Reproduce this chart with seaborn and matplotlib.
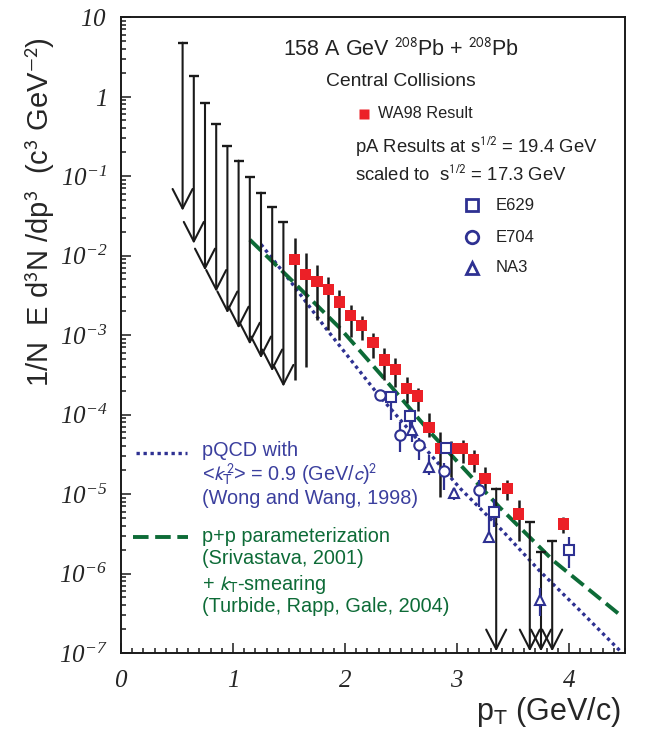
import numpy as np
import matplotlib
matplotlib.use("Agg")
import matplotlib.pyplot as plt
import seaborn as sns

# WA98 result (pT, yield, error bar low / high)
wa98_pt = [1.55, 1.65, 1.75, 1.85, 1.95, 2.05, 2.15, 2.25, 2.35, 2.45, 2.55, 2.65,
           2.75, 2.85, 2.95, 3.05, 3.15, 3.25, 3.45, 3.55, 3.95]
wa98_y = [9.0e-3, 5.8e-3, 4.7e-3, 3.7e-3, 2.6e-3, 1.75e-3, 1.31e-3, 8.1e-4, 4.85e-4, 3.7e-4,
          2.1e-4, 1.71e-4, 6.8e-5, 3.76e-5, 3.7e-5, 3.7e-5, 2.75e-5, 1.58e-5, 1.17e-5, 5.6e-6, 4.2e-6]
wa98_lo = [2.7e-4, 4.0e-4, 1.55e-3, 1.15e-3, 8.7e-4, 9.5e-4, 8.7e-4, 5.1e-4, 2.7e-4, 2.24e-4,
           1.38e-4, 1.1e-4, 5.2e-5, 9.3e-6, 1.66e-5, 2.45e-5, 1.9e-5, 1.12e-5, 8.3e-6, 2.6e-6, 3.2e-6]
wa98_hi = [1.64e-2, 1.07e-2, 7.6e-3, 5.4e-3, 3.7e-3, 2.4e-3, 1.74e-3, 1.07e-3, 6.8e-4, 5.1e-4,
           3.0e-4, 2.14e-4, 1.05e-4, 6.0e-5, 4.6e-5, 4.8e-5, 3.55e-5, 2.2e-5, 1.5e-5, 8.3e-6, 5.1e-6]

# WA98 upper limits (arrow top = limit, arrow tip)
ul_pt = [0.55, 0.65, 0.75, 0.85, 0.95, 1.05, 1.15, 1.25, 1.35, 1.45, 3.35, 3.65, 3.75, 3.85]
ul_top = [4.75, 1.81, 0.82, 0.45, 0.238, 0.156, 0.096, 0.0617, 0.0404, 0.0261,
          1.17e-5, 4.4e-6, 1.86e-6, 2.57e-6]
ul_tip = [3.66e-2, 1.41e-2, 6.5e-3, 3.5e-3, 1.88e-3, 1.21e-3, 7.6e-4, 5.1e-4, 3.5e-4, 2.24e-4,
          1.05e-7, 1.05e-7, 1.05e-7, 1.05e-7]

# pA results scaled to 17.3 GeV
e629_pt = [2.41, 2.58, 2.90, 3.33, 4.00]
e629_y = [1.64e-4, 9.5e-5, 3.83e-5, 5.9e-6, 2.0e-6]
e629_lo = [8.5e-5, 6.3e-5, 3.2e-5, 3.9e-6, 1.16e-6]
e629_hi = [1.95e-4, 1.17e-4, 4.3e-5, 8.7e-6, 2.85e-6]

e704_pt = [2.31, 2.49, 2.66, 2.88, 3.20]
e704_y = [1.76e-4, 5.6e-5, 4.1e-5, 1.96e-5, 1.12e-5]
e704_lo = [1.58e-4, 3.4e-5, 2.7e-5, 1.12e-5, 6.9e-6]
e704_hi = [2.0e-4, 8.1e-5, 5.0e-5, 2.45e-5, 1.5e-5]

na3_pt = [2.60, 2.75, 2.97, 3.29, 3.74]
na3_y = [6.4e-5, 2.2e-5, 1.02e-5, 2.9e-6, 4.7e-7]
na3_lo = [4.5e-5, 1.74e-5, 8.5e-6, 2.5e-6, 2.9e-7]
na3_hi = [8.5e-5, 3.1e-5, 1.2e-5, 5.2e-6, 6.5e-7]

# theory curves
pqcd_pt = [1.25, 1.50, 1.82, 2.28, 2.73, 3.03, 3.41, 3.74, 4.10, 4.46]
pqcd_y = [1.38e-2, 5.0e-3, 1.26e-3, 1.9e-4, 3.55e-5, 1.17e-5, 3.4e-6, 1.07e-6, 3.4e-7, 1.05e-7]
pp_pt = [1.15, 1.51, 1.96, 2.34, 2.76, 3.38, 3.86, 4.47]
pp_y = [1.58e-2, 5.1e-3, 1.2e-3, 2.95e-4, 6.0e-5, 6.8e-6, 1.45e-6, 2.9e-7]

y_ticks = [1e1, 1e0, 1e-1, 1e-2, 1e-3, 1e-4, 1e-5, 1e-6, 1e-7]
y_ticklabels = ["$10$", "$1$"] + ["$10^{-%d}$" % k for k in range(1, 8)]
x_ticks = [0, 1, 2, 3, 4]

RED = "#ec2027"
BLUE = "#2e3192"
GREEN = "#0d6b37"
TBLUE = "#3b3f9e"
SANS_MATH = "stixsans"

sns.set_theme(style="ticks")
plt.rcParams["font.family"] = ["Liberation Sans", "DejaVu Sans"]
# custom mathtext = italic serif, used only for the tick numbers
plt.rcParams["mathtext.fontset"] = "custom"
plt.rcParams["mathtext.rm"] = "Liberation Serif:italic"
plt.rcParams["mathtext.it"] = "Liberation Serif:italic"
plt.rcParams["mathtext.bf"] = "Liberation Serif:italic"

fig = plt.figure(figsize=(6.5, 7.38), dpi=100)
ax = fig.add_axes([121 / 650, 1 - 653 / 738, 504 / 650, 636 / 738])
ax.set_yscale("log")
ax.set_xlim(0, 4.5)
ax.set_ylim(1e-7, 1e1)

# theory curves
sns.lineplot(x=pqcd_pt, y=pqcd_y, ax=ax, color=BLUE, lw=2.4, linestyle=(0, (1, 1.1)))
sns.lineplot(x=pp_pt, y=pp_y, ax=ax, color=GREEN, lw=2.8, linestyle=(0, (4.0, 1.7)))

# upper limits
for x, top, tip in zip(ul_pt, ul_top, ul_tip):
    ax.annotate("", xy=(x, tip), xytext=(x, top),
                arrowprops=dict(arrowstyle="->,head_length=0.7,head_width=0.36", color="k",
                                lw=1.5, shrinkA=0, shrinkB=0, mutation_scale=20))
ax.plot(ul_pt, ul_top, ls="none", marker="_", ms=7, mew=1.7, color="k")

# WA98 points
wa98_err = [np.array(wa98_y) - np.array(wa98_lo), np.array(wa98_hi) - np.array(wa98_y)]
ax.errorbar(wa98_pt, wa98_y, yerr=wa98_err, fmt="none", ecolor="k", elinewidth=1.8, capsize=0)
sns.scatterplot(x=wa98_pt, y=wa98_y, ax=ax, marker="s", s=64, color=RED, edgecolor="none",
                linewidth=0, zorder=5)

for pt, yv, lo, hi, mk in [(e629_pt, e629_y, e629_lo, e629_hi, "s"),
                           (e704_pt, e704_y, e704_lo, e704_hi, "o"),
                           (na3_pt, na3_y, na3_lo, na3_hi, "^")]:
    err = [np.array(yv) - np.array(lo), np.array(hi) - np.array(yv)]
    ax.errorbar(pt, yv, yerr=err, fmt=mk, ms=7.5, mfc="white", mec=BLUE, mew=1.5,
                ecolor=BLUE, elinewidth=1.6, capsize=0, zorder=6)

# axes styling
ax.set_yticks(y_ticks)
ax.set_yticklabels(y_ticklabels, fontsize=18)
ax.yaxis.set_minor_locator(matplotlib.ticker.LogLocator(base=10, subs=np.arange(2, 10), numticks=20))
ax.yaxis.set_minor_formatter(matplotlib.ticker.NullFormatter())
ax.set_xticks(x_ticks)
ax.set_xticklabels(["$%d$" % v for v in x_ticks], fontsize=18)
ax.xaxis.set_minor_locator(matplotlib.ticker.MultipleLocator(0.1))
ax.tick_params(which="both", direction="in", top=False, right=False, color="k", width=1.1)
ax.tick_params(which="major", length=7)
ax.tick_params(which="minor", length=3.5)
ax.tick_params(axis="y", which="major", pad=10)
ax.tick_params(axis="x", which="major", pad=11)
for sp in ax.spines.values():
    sp.set_linewidth(1.4)
    sp.set_color("k")
ax.set_facecolor("white")

# labels
fig.text(40 / 650, 1 - 212 / 738, r"1/N  E d$^3$N /dp$^3$  (c$^3$ GeV$^{-2}$)",
         rotation=90, ha="center", va="center", fontsize=21, math_fontfamily=SANS_MATH)
fig.text(548 / 650, 1 - 712 / 738, r"p$_{\rm T}$ (GeV/c)", ha="center", va="center",
         fontsize=22, math_fontfamily=SANS_MATH)


def fx(px):
    return (px - 121) / 504


def fy(py):
    return (653 - py) / 636


tr = ax.transAxes
DARK = "#222222"
ax.text(fx(401), fy(50), r"158 A GeV $^{208}$Pb + $^{208}$Pb", transform=tr, ha="center",
        va="center", fontsize=15.5, color=DARK, math_fontfamily=SANS_MATH)
ax.text(fx(401), fy(82), "Central Collisions", transform=tr, ha="center", va="center",
        fontsize=13.9, color=DARK)
ax.plot([fx(364)], [fy(114)], transform=tr, marker="s", ms=7, color=RED, mec="none")
ax.text(fx(378), fy(114), "WA98 Result", transform=tr, ha="left", va="center", fontsize=11.7,
        color=DARK)
ax.text(fx(355), fy(147), r"pA Results at s$^{1/2}$ = 19.4 GeV", transform=tr, ha="left",
        va="center", fontsize=13.3, color=DARK, math_fontfamily=SANS_MATH)
ax.text(fx(355), fy(174), r"scaled to  s$^{1/2}$ = 17.3 GeV", transform=tr, ha="left",
        va="center", fontsize=13.3, color=DARK, math_fontfamily=SANS_MATH)
for py, mk, lab in [(205, "s", "E629"), (237, "o", "E704"), (268, "^", "NA3")]:
    ax.plot([fx(472)], [fy(py)], transform=tr, marker=mk, ms=9, mfc="white", mec=BLUE, mew=2)
    ax.text(fx(496), fy(py), lab, transform=tr, ha="left", va="center", fontsize=12,
            color=DARK)

LFS = 14.3
ax.plot([fx(136), fx(187)], [fy(453), fy(453)], transform=tr, color=BLUE, lw=2.4,
        linestyle=(0, (1, 1.1)))
ax.text(fx(202), fy(451), "pQCD with", transform=tr, ha="left", va="center", fontsize=LFS,
        color=TBLUE)
ax.text(fx(202), fy(475), r"<$k_{\rm T}^2$> = 0.9 (GeV/$c$)$^2$", transform=tr, ha="left",
        va="center", fontsize=LFS, color=TBLUE, math_fontfamily=SANS_MATH)
ax.text(fx(202), fy(498), "(Wong and Wang, 1998)", transform=tr, ha="left", va="center",
        fontsize=LFS, color=TBLUE)
ax.plot([fx(133), fx(188)], [fy(537), fy(537)], transform=tr, color=GREEN, lw=2.8,
        linestyle=(0, (4.0, 1.7)))
ax.text(fx(202), fy(537), "p+p parameterization", transform=tr, ha="left", va="center",
        fontsize=LFS, color=GREEN)
ax.text(fx(202), fy(559), "(Srivastava, 2001)", transform=tr, ha="left", va="center",
        fontsize=LFS, color=GREEN)
ax.text(fx(202), fy(584), r"+ $k_{\rm T}$-smearing", transform=tr, ha="left", va="center",
        fontsize=LFS, color=GREEN, math_fontfamily=SANS_MATH)
ax.text(fx(202), fy(607), "(Turbide, Rapp, Gale, 2004)", transform=tr, ha="left", va="center",
        fontsize=LFS, color=GREEN)

fig.savefig("out.png", dpi=100, facecolor="white")
